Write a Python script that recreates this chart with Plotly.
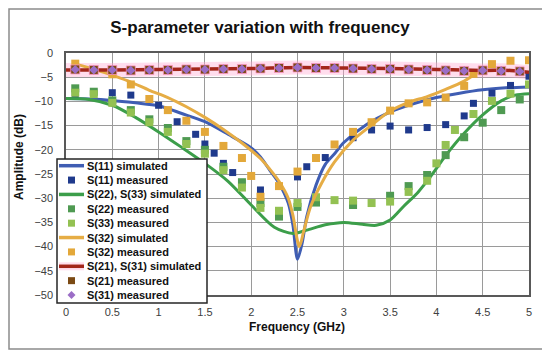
import plotly.graph_objects as go

# ---------------- data ----------------
# simulated curves
f_s11_sim = [0, 0.25, 0.5, 0.75, 1.0, 1.25, 1.5, 1.75, 2.0, 2.1, 2.2, 2.3, 2.4, 2.45, 2.5, 2.55, 2.6, 2.7, 2.8, 2.9, 3.0, 3.25, 3.5, 3.75, 4.0, 4.25, 4.5, 4.75, 5.0]
s11_sim = [-9.4, -9.5, -9.8, -10.3, -10.9, -12.5, -14.2, -16.8, -19.6, -21.5, -24.2, -26.9, -31.0, -35.5, -42.6, -39.3, -33.8, -27.3, -23.0, -20.8, -18.5, -14.7, -12.2, -10.5, -9.2, -8.3, -7.6, -7.2, -7.0]

f_s22_sim = [0, 0.25, 0.5, 0.75, 1.0, 1.25, 1.5, 1.75, 2.0, 2.25, 2.45, 2.6, 2.8, 3.0, 3.2, 3.35, 3.5, 3.65, 3.8, 3.95, 4.1, 4.3, 4.5, 4.7, 4.85, 5.0]
s22_sim = [-9.4, -9.6, -10.8, -13.3, -16.3, -19.5, -22.8, -26.5, -31.4, -36.0, -37.3, -36.6, -35.5, -35.0, -35.4, -35.6, -34.5, -31.6, -28.8, -25.2, -21.2, -16.6, -12.8, -9.9, -8.7, -8.4]

f_s32_sim = [0.1, 0.3, 0.5, 0.7, 0.9, 1.1, 1.3, 1.5, 1.7, 1.9, 2.1, 2.2, 2.3, 2.4, 2.45, 2.52, 2.57, 2.64, 2.76, 2.9, 3.1, 3.3, 3.5, 3.7, 3.9, 4.1, 4.3, 4.45]
s32_sim = [-2.3, -3.3, -4.6, -6.0, -7.7, -9.2, -11.1, -13.3, -15.8, -18.6, -21.8, -24.0, -26.5, -30.0, -33.5, -40.0, -36.6, -31.8, -26.9, -22.5, -18.0, -14.9, -12.0, -10.2, -9.0, -7.5, -5.8, -4.0]

f_s21_sim = [0, 0.5, 1.0, 1.5, 2.0, 2.5, 3.0, 3.5, 4.0, 4.5, 4.8, 5.0]
s21_sim = [-3.5, -3.5, -3.4, -3.3, -3.2, -3.0, -3.1, -3.2, -3.4, -3.6, -3.6, -4.0]

# measured points
f_s11_meas = [0.1, 0.3, 0.5, 0.7, 1.0, 1.2, 1.4, 1.5, 1.6, 1.7, 1.8, 2.1, 2.5, 2.6, 2.8, 3.1, 3.3, 3.5, 3.7, 3.9, 4.1, 4.3, 4.4, 4.6, 4.8, 5.0]
s11_meas = [-8.7, -8.2, -8.2, -8.7, -10.8, -14.2, -16.8, -18.8, -20.7, -22.8, -24.7, -28.3, -25.6, -23.5, -21.6, -17.5, -15.9, -15.1, -15.9, -15.4, -14.8, -13.0, -10.4, -8.3, -6.7, -4.8]

f_s22_meas = [0.1, 0.3, 0.5, 0.7, 0.9, 1.1, 1.3, 1.5, 1.7, 1.9, 2.1, 2.3, 2.5, 2.7, 3.1, 3.5, 3.7, 3.9, 4.1, 4.3, 4.5, 4.7, 4.9]
s22_meas = [-7.3, -8.0, -9.8, -11.8, -13.7, -15.5, -18.2, -20.0, -23.5, -26.7, -31.0, -33.8, -31.8, -30.9, -31.4, -29.5, -27.5, -25.2, -21.1, -17.4, -14.4, -11.8, -9.6]

f_s33_meas = [0.1, 0.3, 0.5, 0.7, 0.9, 1.1, 1.3, 1.5, 1.7, 1.9, 2.1, 2.3, 2.5, 2.7, 2.9, 3.1, 3.3, 3.5, 3.7, 3.9, 4.0, 4.1, 4.2, 4.4, 4.6, 4.8, 5.0]
s33_meas = [-8.2, -8.5, -10.3, -12.3, -14.3, -16.3, -18.8, -20.8, -24.2, -27.8, -32.0, -32.6, -31.0, -29.8, -30.4, -30.5, -31.0, -30.7, -28.7, -26.4, -22.8, -19.0, -15.9, -12.6, -9.9, -8.4, -6.5]

f_s32_meas = [0.1, 0.5, 0.7, 0.9, 1.1, 1.3, 1.5, 1.7, 1.9, 2.0, 2.1, 2.3, 2.5, 2.7, 2.9, 3.1, 3.3, 3.5, 3.7, 3.9, 4.1, 4.3, 4.4, 4.6, 4.8, 5.0]
s32_meas = [-2.2, -4.4, -6.5, -9.5, -11.8, -14.0, -16.3, -19.2, -21.7, -25.4, -29.7, -27.5, -24.5, -21.7, -18.9, -16.3, -14.3, -11.9, -10.4, -10.2, -9.2, -6.8, -4.3, -2.3, -1.6, -1.5]

f_s21_meas = [0.1, 0.3, 0.5, 0.7, 0.9, 1.1, 1.3, 1.5, 1.7, 1.9, 2.1, 2.3, 2.5, 2.7, 2.9, 3.1, 3.3, 3.5, 3.7, 3.9, 4.1, 4.3, 4.5, 4.7, 4.9]
s21_meas = [-3.4, -3.5, -3.5, -3.6, -3.5, -3.5, -3.4, -3.4, -3.3, -3.3, -3.2, -3.1, -3.0, -3.1, -3.1, -3.2, -3.3, -3.3, -3.4, -3.5, -3.6, -3.7, -3.6, -3.7, -3.8]
s31_meas = [-3.4, -3.5, -3.5, -3.6, -3.5, -3.5, -3.4, -3.4, -3.3, -3.3, -3.2, -3.1, -3.0, -3.1, -3.1, -3.2, -3.3, -3.3, -3.4, -3.5, -3.6, -3.7, -3.6, -3.7, -3.8]

legend_labels = ["S(11) simulated", "S(11) measured", "S(22), S(33) simulated", "S(22) measured",
                 "S(33) measured", "S(32) simulated", "S(32) measured", "S(21), S(31) simulated",
                 "S(21) measured", "S(31) measured"]
x_ticks = [0, 0.5, 1, 1.5, 2, 2.5, 3, 3.5, 4, 4.5, 5]
x_tick_text = ["0", "0.5", "1", "1.5", "2", "2.5", "3", "3.5", "4", "4.5", "5"]

# ---------------- styles ----------------
FONT = "Liberation Sans, Arial, sans-serif"
C_S11 = "#3f5db3"
C_S11M = "#1f3a8c"
C_S22 = "#3c9e4a"
C_S22M = "#4f9a52"
C_S33M = "#93c152"
C_S32 = "#e6ad45"
C_S32M = "#e3a83a"
C_S21 = "#a3261a"
C_S21M = "#7b4a14"
C_S31M = "#9b6dc6"
GLOW = "rgba(255,170,210,0.4)"

fig = go.Figure()

fig.add_trace(go.Scatter(x=f_s21_sim, y=s21_sim, mode="lines", line=dict(color=GLOW, width=14, shape="spline"),
                         hoverinfo="skip"))
fig.add_trace(go.Scatter(x=f_s11_sim, y=s11_sim, mode="lines", name=legend_labels[0],
                         line=dict(color=C_S11, width=3, shape="spline", smoothing=0.8)))
fig.add_trace(go.Scatter(x=f_s11_meas, y=s11_meas, mode="markers", name=legend_labels[1],
                         marker=dict(symbol="square", size=7, color=C_S11M)))
fig.add_trace(go.Scatter(x=f_s22_sim, y=s22_sim, mode="lines", name=legend_labels[2],
                         line=dict(color=C_S22, width=3, shape="spline", smoothing=0.8)))
fig.add_trace(go.Scatter(x=f_s22_meas, y=s22_meas, mode="markers", name=legend_labels[3],
                         marker=dict(symbol="square", size=8, color=C_S22M)))
fig.add_trace(go.Scatter(x=f_s33_meas, y=s33_meas, mode="markers", name=legend_labels[4],
                         marker=dict(symbol="square", size=8, color=C_S33M)))
fig.add_trace(go.Scatter(x=f_s32_sim, y=s32_sim, mode="lines", name=legend_labels[5],
                         line=dict(color=C_S32, width=3, shape="spline", smoothing=0.8)))
fig.add_trace(go.Scatter(x=f_s32_meas, y=s32_meas, mode="markers", name=legend_labels[6],
                         marker=dict(symbol="square", size=8, color=C_S32M)))
fig.add_trace(go.Scatter(x=f_s21_sim, y=s21_sim, mode="lines", name=legend_labels[7],
                         line=dict(color=C_S21, width=3.5, shape="spline")))
fig.add_trace(go.Scatter(x=f_s21_meas, y=s21_meas, mode="markers", name=legend_labels[8],
                         marker=dict(symbol="square", size=9, color=C_S21M,
                                     line=dict(color="rgba(255,150,200,0.8)", width=1))))
fig.add_trace(go.Scatter(x=f_s21_meas, y=s31_meas, mode="markers", name=legend_labels[9],
                         marker=dict(symbol="diamond", size=7, color=C_S31M)))
fig.update_traces(showlegend=False)

# ---------------- geometry (page pixels; the page body has an 8px margin) ----------------
OFF = 8
W, H = 550, 354
PL, PR, PT, PB = 66, 529, 53, 295          # plot area in page pixels
L = PL - OFF
T = PT - OFF
R = W - (PR - OFF)
B = H - (PB - OFF)
PW, PH = PR - PL, PB - PT


def px(x):
    return (x - PL) / PW


def py(y):
    return (PB - y) / PH


shapes = []
annotations = []

# outer chart border
shapes.append(dict(type="rect", xref="paper", yref="paper", x0=px(9), x1=px(545), y0=py(349), y1=py(9),
                   line=dict(color="#8c8c8c", width=1.5), layer="below"))

# compact legend drawn like the original
shapes.append(dict(type="rect", xref="paper", yref="paper", x0=px(57), x1=px(207), y0=py(303), y1=py(159),
                   fillcolor="white", line=dict(color="#262626", width=1.5), layer="above"))
legend_items = [
    ("line", C_S11), ("sq", C_S11M), ("line", C_S22), ("sq", C_S22M), ("sq", C_S33M),
    ("line", C_S32), ("sq", C_S32M), ("line", C_S21), ("sq", C_S21M), ("dia", C_S31M),
]
y0 = 165.7
dy = 14.37
for i, ((kind, col), lab) in enumerate(zip(legend_items, legend_labels)):
    yc = y0 + i * dy
    if kind == "line":
        if col == C_S21:
            shapes.append(dict(type="line", xref="paper", yref="paper", x0=px(59), x1=px(84), y0=py(yc), y1=py(yc),
                               line=dict(color=GLOW, width=8), layer="above"))
        shapes.append(dict(type="line", xref="paper", yref="paper", x0=px(59), x1=px(84), y0=py(yc), y1=py(yc),
                           line=dict(color=col, width=3.5), layer="above"))
    elif kind == "sq":
        shapes.append(dict(type="rect", xref="paper", yref="paper", x0=px(68), x1=px(75), y0=py(yc + 3.5),
                           y1=py(yc - 3.5), fillcolor=col, line=dict(width=0), layer="above"))
    else:
        cx, cy = 71.5, yc
        path = "M {} {} L {} {} L {} {} L {} {} Z".format(px(cx), py(cy - 4), px(cx + 4), py(cy),
                                                          px(cx), py(cy + 4), px(cx - 4), py(cy))
        shapes.append(dict(type="path", xref="paper", yref="paper", path=path, fillcolor=col,
                           line=dict(width=0), layer="above"))
    annotations.append(dict(xref="paper", yref="paper", x=px(84.5), y=py(yc), text="<b>" + lab + "</b>",
                            showarrow=False, xanchor="left", yanchor="middle",
                            font=dict(family=FONT, size=11, color="#111111")))

# axis titles
annotations.append(dict(xref="paper", yref="paper", x=px(19), y=py(157), text="<b>Amplitude (dB)</b>",
                        textangle=-90, showarrow=False, xanchor="center", yanchor="middle",
                        font=dict(family=FONT, size=12, color="#111111")))
annotations.append(dict(xref="paper", yref="paper", x=px(297), y=py(327), text="<b>Frequency (GHz)</b>",
                        showarrow=False, xanchor="center", yanchor="middle",
                        font=dict(family=FONT, size=12, color="#111111")))

fig.update_layout(
    width=W, height=H,
    margin=dict(l=L, r=R, t=T, b=B, pad=0),
    paper_bgcolor="white", plot_bgcolor="white",
    title=dict(text="<b>S-parameter variation with frequency</b>", x=(260 - OFF) / W, xref="container",
               xanchor="center", y=1 - (27 - OFF) / H, yref="container", yanchor="middle",
               font=dict(family=FONT, size=17, color="#111111")),
    showlegend=False,
    shapes=shapes,
    annotations=annotations,
)
fig.update_xaxes(range=[0, 5], tickvals=x_ticks, ticktext=x_tick_text, showgrid=True, gridcolor="#9a9a9a",
                 gridwidth=1, showline=True, linecolor="#595959", linewidth=1.5, mirror=True, zeroline=False,
                 ticks="", ticklabelstandoff=6, tickfont=dict(family=FONT, size=11, color="#404040"))
fig.update_yaxes(range=[-50, 0], dtick=5, showgrid=True, gridcolor="#9a9a9a", gridwidth=1,
                 showline=True, linecolor="#595959", linewidth=1.5, mirror=True, zeroline=False,
                 ticks="", ticklabelstandoff=9, tickfont=dict(family=FONT, size=11, color="#404040"))

fig.write_html("out.html")
